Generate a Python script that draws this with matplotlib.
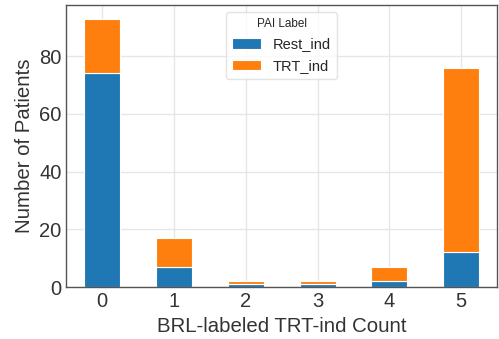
import pandas as pd
import seaborn as sns
import matplotlib.pyplot as plt

# --- Données ---
counts = [0, 1, 2, 3, 4, 5]
rest_ind = [74, 7, 1, 1, 2, 12]
trt_ind = [19, 10, 1, 1, 5, 64]

df = pd.DataFrame({"Rest_ind": rest_ind, "TRT_ind": trt_ind}, index=counts)

sns.set_style("whitegrid")
plt.rcParams['font.family'] = ['Liberation Sans', 'DejaVu Sans']

fig, ax = plt.subplots(figsize=(4.99, 3.39), dpi=100)
df.plot(kind="bar", stacked=True, ax=ax, color=["#1f77b4", "#ff7f0e"],
        edgecolor="white", linewidth=0.8, width=0.5)

ax.set_xlabel("BRL-labeled TRT-ind Count", fontsize=14.7, color="#333333")
ax.set_ylabel("Number of Patients", fontsize=14.7, color="#333333")
ax.tick_params(axis="both", labelsize=14.5, labelcolor="#333333", length=0)
plt.setp(ax.get_xticklabels(), rotation=0)
ax.set_ylim(0, 97.65)
ax.grid(color="#e6e6e6", linewidth=1)
for s in ax.spines.values():
    s.set_color("#555555")
    s.set_linewidth(1)

leg = ax.legend(title="PAI Label", loc="upper center", fontsize=10.5,
                title_fontsize=8.5, frameon=True)
leg.get_frame().set_edgecolor("#dddddd")

plt.subplots_adjust(left=0.133, right=0.996, top=0.985, bottom=0.153)
plt.savefig("out.png", dpi=100)
